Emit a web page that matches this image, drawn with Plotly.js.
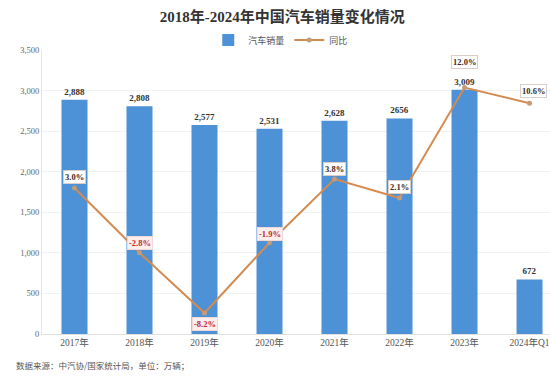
<!DOCTYPE html>
<html>
<head>
<meta charset="utf-8">
<script src="https://cdn.plot.ly/plotly-3.0.1.min.js"></script>
<style>html,body{margin:0;padding:0;background:#fff;}#chart{width:550px;height:378px;}</style>
</head>
<body>
<div id="chart"></div>
<script>
var categories = ["2017年", "2018年", "2019年", "2020年", "2021年", "2022年", "2023年", "2024年Q1"];
var sales = [2888, 2808, 2577, 2531, 2628, 2656, 3009, 672];
var salesLabels = ["2,888", "2,808", "2,577", "2,531", "2,628", "2656", "3,009", "672"];
var yoy = [3.0, -2.8, -8.2, -1.9, 3.8, 2.1, 12.0, 10.6];
var yoyLabels = ["3.0%", "-2.8%", "-8.2%", "-1.9%", "3.8%", "2.1%", "12.0%", "10.6%"];

// label placement (style only)
var labelShift = [11, 10, 11, 9, 10, 11, 26, 12];
var labelBelow = [false, false, true, false, false, false, false, false];

var serif = "Liberation Serif, Noto Sans CJK SC, serif";
var cjk = "Noto Sans CJK SC, sans-serif";

var traces = [
  {
    type: "bar",
    name: "汽车销量",
    x: categories,
    y: sales,
    text: salesLabels,
    texttemplate: "<b>%{text}</b>",
    textposition: "outside",
    cliponaxis: false,
    textfont: {family: serif, size: 9, color: "#333"},
    marker: {color: "#4d91d6"},
    width: 0.4,
    hoverinfo: "x+y"
  },
  {
    type: "scatter",
    mode: "lines+markers",
    name: "同比",
    x: categories,
    y: yoy,
    yaxis: "y2",
    line: {color: "#d48b50", width: 2},
    marker: {color: "#c49a78", size: 5},
    cliponaxis: false
  }
];

var annotations = yoy.map(function (v, i) {
  var neg = v < 0;
  var a = {
    xref: "x", yref: "y2",
    x: categories[i], y: v,
    text: "<b>" + yoyLabels[i] + "</b>",
    showarrow: false,
    font: {family: serif, size: 8.5, color: neg ? "#c0282d" : "#3b2a22"},
    bgcolor: neg ? "#fdeeee" : "#ffffff",
    bordercolor: neg ? "#f3d6d6" : "#d9cfc8",
    borderwidth: 1,
    borderpad: 1,
    yshift: labelBelow[i] ? -labelShift[i] : labelShift[i]
  };
  return a;
});
annotations[7].xshift = 4;
annotations.push({
  xref: "paper", yref: "paper",
  x: -0.055, y: -0.11, xanchor: "left", yanchor: "middle",
  text: "数据来源：中汽协/国家统计局，单位：万辆；",
  showarrow: false,
  font: {family: cjk, size: 8.5, color: "#555"}
});

var layout = {
  width: 550,
  height: 378,
  margin: {l: 42, r: 0, t: 50, b: 44},
  paper_bgcolor: "#ffffff",
  plot_bgcolor: "#ffffff",
  title: {
    text: "<b>2018年-2024年中国汽车销量变化情况</b>",
    font: {family: serif, size: 15, color: "#333"},
    x: 0.513, xref: "container", xanchor: "center",
    y: 0.955, yref: "container", yanchor: "middle"
  },
  showlegend: true,
  legend: {
    orientation: "h",
    x: 0.47, xanchor: "center",
    y: 1.035, yanchor: "middle",
    font: {family: cjk, size: 9, color: "#555"},
    itemwidth: 30,
    tracegroupgap: 0
  },
  bargap: 0.6,
  xaxis: {
    type: "category",
    range: [-0.5, 7.315],
    showgrid: false,
    showline: true,
    linecolor: "#e0e0e0",
    linewidth: 1,
    ticks: "",
    tickfont: {family: serif, size: 9.5, color: "#555"},
    fixedrange: true
  },
  yaxis: {
    range: [0, 3500],
    dtick: 500,
    tickformat: ",",
    showgrid: true,
    gridcolor: "#f2f2f2",
    showline: true,
    linecolor: "#e6e6e6",
    zeroline: false,
    ticks: "",
    tickfont: {family: serif, size: 8.5, color: "#666"},
    fixedrange: true
  },
  yaxis2: {
    overlaying: "y",
    side: "right",
    range: [-10.08, 15.37],
    visible: false,
    showgrid: false,
    zeroline: false,
    fixedrange: true
  },
  annotations: annotations
};

Plotly.newPlot("chart", traces, layout, {displayModeBar: false, staticPlot: true});
</script>
</body>
</html>
